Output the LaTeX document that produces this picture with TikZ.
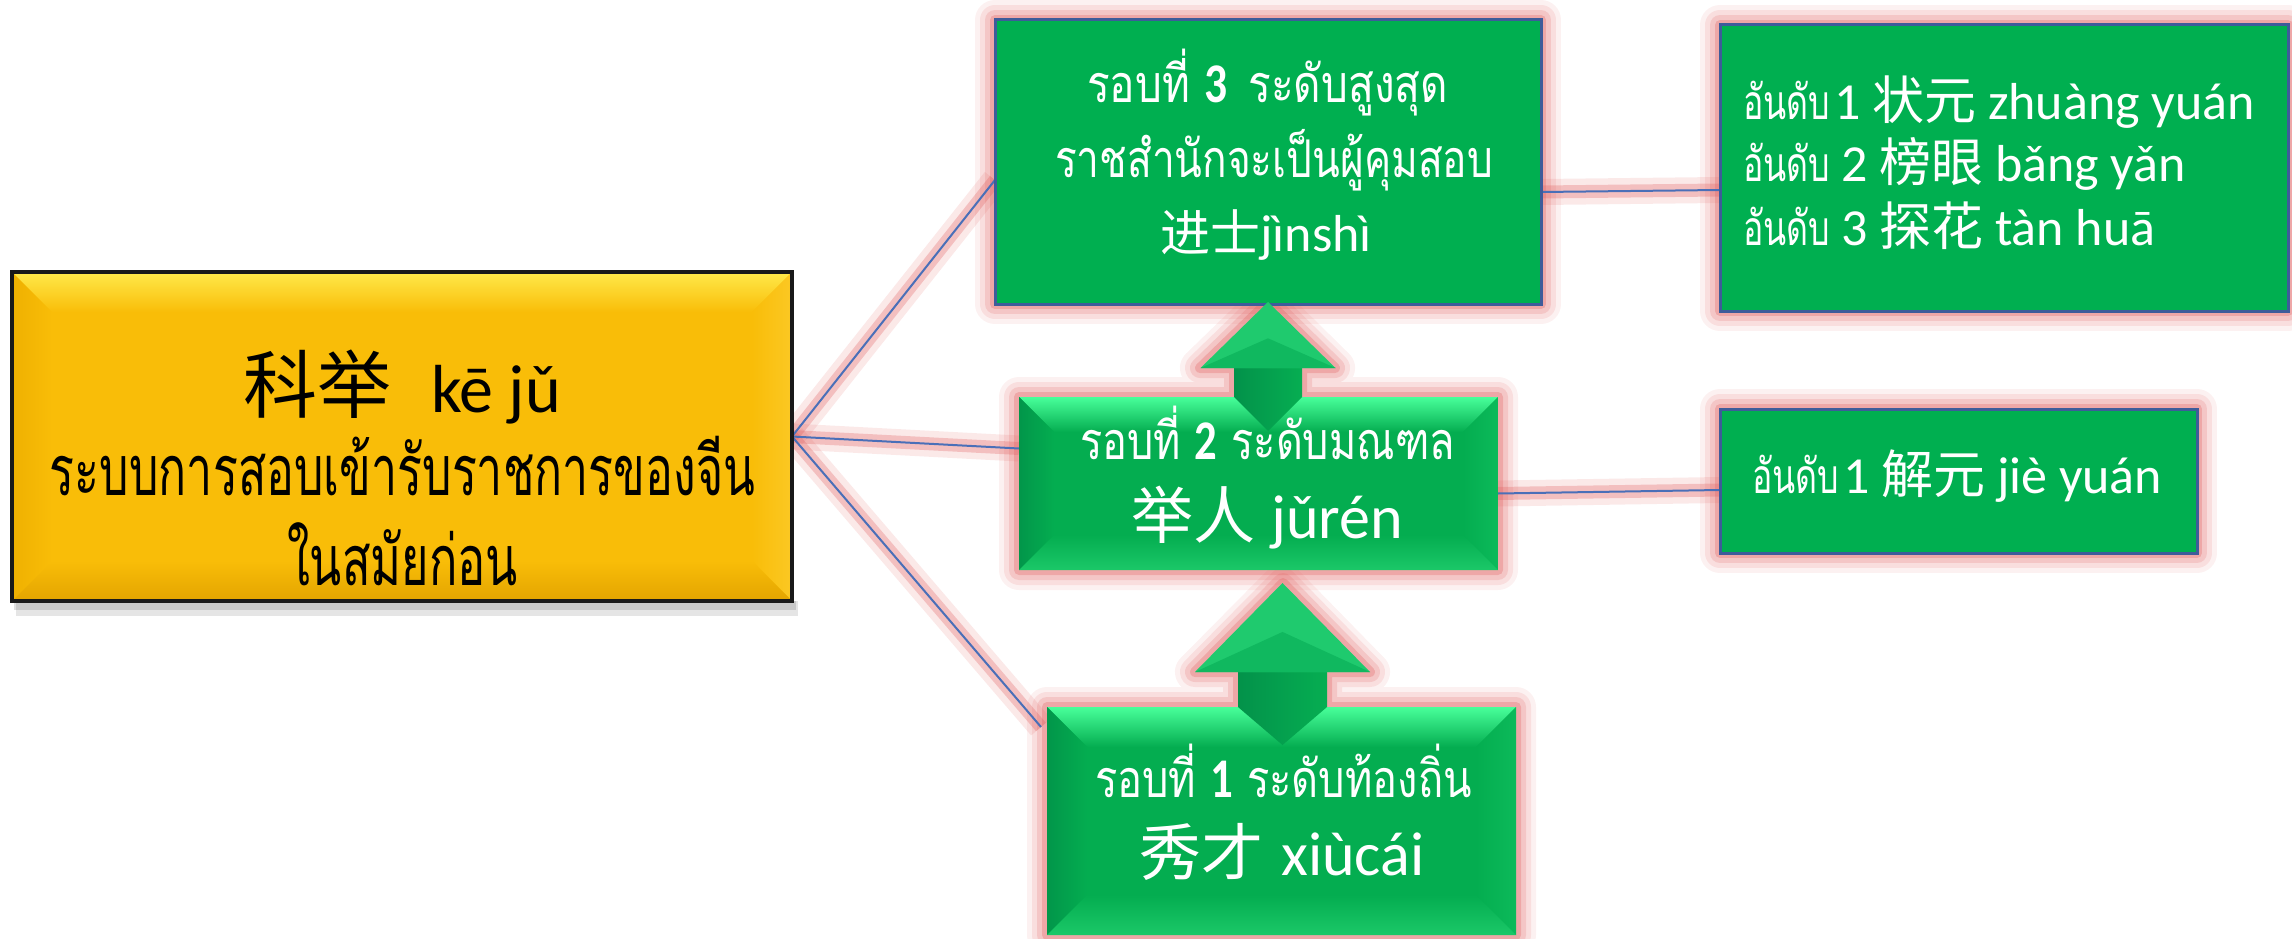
\documentclass[tikz,border=0pt]{standalone}
\usepackage{fontspec}
\usepackage{graphicx}
\setmainfont{Carlito}
\newfontfamily\thfont[Script=Thai]{Loma}
\newfontfamily\cjkfont{Noto Sans CJK SC}
\usetikzlibrary{calc}
\pgfdeclarelayer{glowlayer}
\pgfdeclarelayer{linelayer}
\pgfdeclarelayer{bg}
\pgfsetlayers{glowlayer,linelayer,bg,main}
\definecolor{glowc}{HTML}{E0605F}
\definecolor{connc}{HTML}{4A6FB8}
\definecolor{flatg}{HTML}{00AF50}
\definecolor{flatb}{HTML}{3E5C9A}
\definecolor{ybase}{HTML}{F9BD08}
\definecolor{ytop}{HTML}{FFE94A}
\definecolor{yleft}{HTML}{EFB000}
\definecolor{yright}{HTML}{FBC824}
\definecolor{ybottom}{HTML}{E3A400}
\definecolor{gbase}{HTML}{04AD50}
\definecolor{gtop}{HTML}{48FF9A}
\definecolor{gleft}{HTML}{02964A}
\definecolor{gright}{HTML}{0CBA5A}
\definecolor{gbottom}{HTML}{1BC868}
\definecolor{ahead}{HTML}{1FCA6E}
\definecolor{ahin}{HTML}{10B85F}
\definecolor{ashaftl}{HTML}{03924A}
\definecolor{ashaft}{HTML}{06AE52}
\newcommand\fs[1]{\fontsize{#1}{#1}\selectfont}
% squeeze a text horizontally to a given width, keeping its height
\newcommand\fitw[2]{\resizebox{#1pt}{\height}{#2}}
\newcommand\glowpath[1]{\foreach \gw/\go in {40/0.09,30/0.13,20/0.19,10/0.3}{\draw[glowc,line width=\gw pt,opacity=\go,line join=round] #1;}}
\newcommand\bevel[6]{%
\fill[#6base] (#1,#2) rectangle (#3,#4);
\shade[top color=#6top,bottom color=#6base] (#1,#2) -- (#3,#2) -- (#3-#5,#2+#5) -- (#1+#5,#2+#5) -- cycle;
\shade[left color=#6left,right color=#6base] (#1,#2) -- (#1+#5,#2+#5) -- (#1+#5,#4-#5) -- (#1,#4) -- cycle;
\shade[right color=#6right,left color=#6base] (#3,#2) -- (#3-#5,#2+#5) -- (#3-#5,#4-#5) -- (#3,#4) -- cycle;
\shade[bottom color=#6bottom,top color=#6base] (#1,#4) -- (#1+#5,#4-#5) -- (#3-#5,#4-#5) -- (#3,#4) -- cycle;}
\newcommand\uparr[7]{%
\shade[left color=ashaftl,right color=ashaft] (#1-#5,#3-2) -- (#1+#5,#3-2) -- (#1+#5,#6) -- (#1,#7) -- (#1-#5,#6) -- cycle;
\fill[ahead] (#1-#4,#3) -- (#1,#2) -- (#1+#4,#3) -- cycle;
\fill[ahin] (#1-#4,#3) -- (#1,#3-0.45*#3+0.45*#2) -- (#1+#4,#3) -- cycle;}
\newcommand\conn[2]{%
\begin{pgfonlayer}{glowlayer}\draw[glowc,line width=26pt,opacity=0.14] #1 -- #2; \draw[glowc,line width=13pt,opacity=0.3] #1 -- #2;\end{pgfonlayer}%
\begin{pgfonlayer}{linelayer}\draw[connc,line width=2pt] #1 -- #2;\end{pgfonlayer}}
\tikzset{boxn/.style={draw=none,inner sep=0pt,outer sep=0pt,rectangle},
 wt/.style={text=white,inner sep=0pt,anchor=base},
 bt/.style={text=black,inner sep=0pt,anchor=base}}
\begin{document}
\begin{tikzpicture}[x=1pt,y=-1pt]
\useasboundingbox (0,0) rectangle (2292,939);
% box nodes
\node[boxn,minimum width=780pt,minimum height=329pt] (yel) at (402,436.5) {};
\node[boxn,minimum width=546pt,minimum height=284pt] (r3) at (1268,162) {};
\node[boxn,minimum width=479pt,minimum height=173pt] (r2) at (1258.5,483.5) {};
\node[boxn,minimum width=469pt,minimum height=228pt] (r1) at (1281.5,821) {};
\node[boxn,minimum width=568pt,minimum height=286pt] (k1) at (2004,168) {};
\node[boxn,minimum width=477pt,minimum height=144pt] (k2) at (1958.5,481) {};
% texts
\node[bt] (y1) at (402,412) {{\cjkfont\fs{74}科举}\hspace{40pt}{\fs{68}kē jǔ}};
\node[bt] (y2) at (402.5,495) {\fitw{705}{\fs{70}\thfont ระบบการสอบเข้ารับราชการของจีน}};
\node[bt] (y3) at (402.5,585) {\fitw{231}{\fs{70}\thfont ในสมัยก่อน}};
\node[wt] (r3a) at (1267.5,103) {\fitw{361}{\fs{52}\thfont รอบที่ {\fs{56}\rmfamily\bfseries 3}\hspace{26pt}ระดับสูงสุด}};
\node[wt] (r3b) at (1274,177) {\fitw{438}{\fs{52}\thfont ราชสำนักจะเป็นผู้คุมสอบ}};
\node[wt] (r3c) at (1266,251) {{\cjkfont\fs{50}进士}{\fs{52}jìnshì}};
\node[wt] (r2a) at (1267.5,459) {\fitw{375}{\fs{52}\thfont รอบที่ {\fs{56}\rmfamily\bfseries 2} ระดับมณฑล}};
\node[wt] (r2b) at (1267,538) {{\cjkfont\fs{62}举人}\hspace{16pt}{\fs{62}jǔrén}};
\node[wt] (r1a) at (1283.5,797) {\fitw{377}{\fs{52}\thfont รอบที่ {\fs{56}\rmfamily\bfseries 1} ระดับท้องถิ่น}};
\node[wt] (r1b) at (1282,875) {{\cjkfont\fs{62}秀才}\hspace{18pt}{\fs{62}xiùcái}};
\node[wt,anchor=base west] (k1a) at (1743,120) {\fitw{87}{\fs{48}\thfont อันดับ}\hspace{4pt}{\fs{52}1 {\cjkfont\fs{52}状元} zhuàng yuán}};
\node[wt,anchor=base west] (k1b) at (1743,182) {\fitw{87}{\fs{48}\thfont อันดับ}\hspace{11pt}{\fs{52}2 {\cjkfont\fs{52}榜眼} bǎng yǎn}};
\node[wt,anchor=base west] (k1c) at (1743,245) {\fitw{87}{\fs{48}\thfont อันดับ}\hspace{11pt}{\fs{52}3 {\cjkfont\fs{52}探花} tàn huā}};
\node[wt,anchor=base west] (k2a) at (1752,493) {\fitw{87}{\fs{48}\thfont อันดับ}\hspace{4pt}{\fs{52}1 {\cjkfont\fs{52}解元} jiè yuán}};
% glows
\begin{pgfonlayer}{glowlayer}
\glowpath{(995,20) rectangle (1541,304)}
\glowpath{(1720,25) rectangle (2288,311)}
\glowpath{(1720,409) rectangle (2197,553)}
\glowpath{(1019,397) -- (1234,397) -- (1234,368) -- (1200,368) -- (1268,302) -- (1335,368) -- (1302,368) -- (1302,397) -- (1498,397) -- (1498,570) -- (1019,570) -- cycle}
\glowpath{(1047,707) -- (1238,707) -- (1238,672) -- (1195,672) -- (1283,583) -- (1370,672) -- (1327,672) -- (1327,707) -- (1516,707) -- (1516,935) -- (1047,935) -- cycle}
\fill[black,opacity=0.10] (16,601) rectangle (798,616);
\fill[black,opacity=0.12] (14,601) rectangle (796,610);
\end{pgfonlayer}
% fills
\begin{pgfonlayer}{bg}
\bevel{12}{272}{792}{601}{40}{y}
\draw[black!90,line width=4pt] (12,272) rectangle (792,601);
\fill[flatg,draw=flatb,line width=3pt] (995,20) rectangle (1541,304);
\fill[flatg,draw=flatb,line width=3pt] (1720,25) rectangle (2288,311);
\fill[flatg,draw=flatb,line width=3pt] (1720,409) rectangle (2197,553);
\bevel{1019}{397}{1498}{570}{35}{g}
\uparr{1268}{302}{368}{67.5}{34}{397}{431}
\bevel{1047}{707}{1516}{935}{40}{g}
\uparr{1282.5}{583}{672}{87.5}{44.5}{707}{745}
\end{pgfonlayer}
% connectors
\conn{(yel.east)}{([yshift=-18pt]r3.west)}
\conn{(yel.east)}{([yshift=35pt]r2.west)}
\conn{(yel.east)}{([xshift=-6pt,yshift=-20pt]r1.north west)}
\conn{([yshift=-30pt]r3.east)}{([yshift=-22pt]k1.west)}
\conn{([yshift=-10pt]r2.east)}{([yshift=-9pt]k2.west)}
\end{tikzpicture}
\end{document}
